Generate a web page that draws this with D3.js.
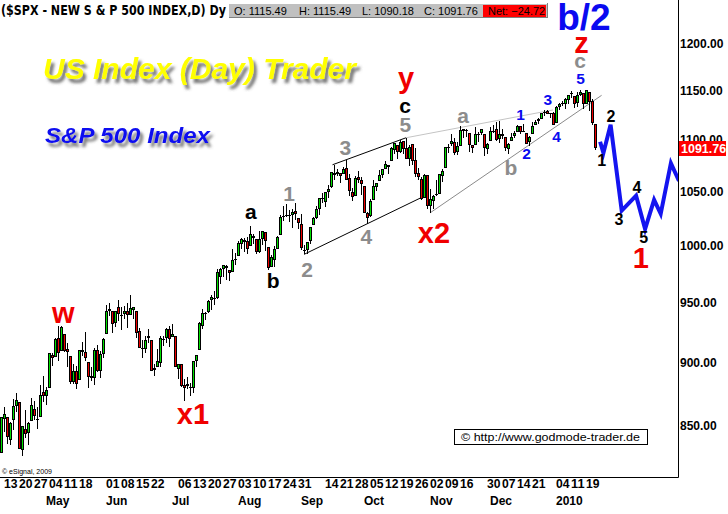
<!DOCTYPE html>
<html>
<head>
<meta charset="utf-8">
<script src="https://cdn.jsdelivr.net/npm/d3@7"></script>
<style>
  body { margin: 0; background: #fff; }
  svg { display: block; }
</style>
</head>
<body>
<div id="chart"></div>
<script>
// daily bars, $SPX, 9 Apr 2009 .. 22 Jan 2010
const dates = [
  "2009-04-09","2009-04-13","2009-04-14","2009-04-15","2009-04-16","2009-04-17","2009-04-20","2009-04-21","2009-04-22","2009-04-23","2009-04-24","2009-04-27","2009-04-28","2009-04-29","2009-04-30",
  "2009-05-01","2009-05-04","2009-05-05","2009-05-06","2009-05-07","2009-05-08","2009-05-11","2009-05-12","2009-05-13","2009-05-14","2009-05-15","2009-05-18","2009-05-19","2009-05-20","2009-05-21","2009-05-22","2009-05-26","2009-05-27","2009-05-28","2009-05-29",
  "2009-06-01","2009-06-02","2009-06-03","2009-06-04","2009-06-05","2009-06-08","2009-06-09","2009-06-10","2009-06-11","2009-06-12","2009-06-15","2009-06-16","2009-06-17","2009-06-18","2009-06-19","2009-06-22","2009-06-23","2009-06-24","2009-06-25","2009-06-26","2009-06-29","2009-06-30",
  "2009-07-01","2009-07-02","2009-07-06","2009-07-07","2009-07-08","2009-07-09","2009-07-10","2009-07-13","2009-07-14","2009-07-15","2009-07-16","2009-07-17","2009-07-20","2009-07-21","2009-07-22","2009-07-23","2009-07-24","2009-07-27","2009-07-28","2009-07-29","2009-07-30","2009-07-31",
  "2009-08-03","2009-08-04","2009-08-05","2009-08-06","2009-08-07","2009-08-10","2009-08-11","2009-08-12","2009-08-13","2009-08-14","2009-08-17","2009-08-18","2009-08-19","2009-08-20","2009-08-21","2009-08-24","2009-08-25","2009-08-26","2009-08-27","2009-08-28","2009-08-31",
  "2009-09-01","2009-09-02","2009-09-03","2009-09-04","2009-09-08","2009-09-09","2009-09-10","2009-09-11","2009-09-14","2009-09-15","2009-09-16","2009-09-17","2009-09-18","2009-09-21","2009-09-22","2009-09-23","2009-09-24","2009-09-25","2009-09-28","2009-09-29","2009-09-30",
  "2009-10-01","2009-10-02","2009-10-05","2009-10-06","2009-10-07","2009-10-08","2009-10-09","2009-10-12","2009-10-13","2009-10-14","2009-10-15","2009-10-16","2009-10-19","2009-10-20","2009-10-21","2009-10-22","2009-10-23","2009-10-26","2009-10-27","2009-10-28","2009-10-29","2009-10-30",
  "2009-11-02","2009-11-03","2009-11-04","2009-11-05","2009-11-06","2009-11-09","2009-11-10","2009-11-11","2009-11-12","2009-11-13","2009-11-16","2009-11-17","2009-11-18","2009-11-19","2009-11-20","2009-11-23","2009-11-24","2009-11-25","2009-11-27","2009-11-30",
  "2009-12-01","2009-12-02","2009-12-03","2009-12-04","2009-12-07","2009-12-08","2009-12-09","2009-12-10","2009-12-11","2009-12-14","2009-12-15","2009-12-16","2009-12-17","2009-12-18","2009-12-21","2009-12-22","2009-12-23","2009-12-24","2009-12-28","2009-12-29","2009-12-30","2009-12-31",
  "2010-01-04","2010-01-05","2010-01-06","2010-01-07","2010-01-08","2010-01-11","2010-01-12","2010-01-13","2010-01-14","2010-01-15","2010-01-19","2010-01-20","2010-01-21","2010-01-22"
];
const opens = [
  829.3,855.3,856.9,839.4,854.5,865.2,868.3,831.3,847.3,844.6,853.9,862.8,854.5,856.9,876.6,
  872.7,879.2,906.1,904.0,919.6,909.0,923.0,910.5,905.4,884.2,892.8,886.1,909.7,908.6,900.4,888.7,887.0,910.0,893.0,907.0,
  923.3,942.9,942.5,932.5,945.7,938.1,940.4,942.7,939.0,943.4,942.5,925.6,911.9,910.9,920.0,918.1,893.5,896.3,899.5,918.8,919.9,927.2,
  920.8,921.2,894.3,898.6,881.9,881.3,880.0,879.6,900.8,910.2,930.2,940.6,942.1,952.0,953.4,954.1,972.2,978.6,981.5,977.7,976.0,986.8,
  990.2,1001.4,1005.4,1004.1,999.8,1008.9,1005.8,994.0,1005.9,1012.2,998.2,980.6,986.9,996.4,1009.1,1026.6,1026.6,1027.4,1027.8,1031.6,1025.2,
  1019.5,996.1,996.1,1003.8,1018.7,1025.4,1033.0,1043.9,1040.2,1049.0,1054.0,1067.9,1066.6,1067.1,1066.4,1072.7,1062.6,1049.5,1045.4,1063.7,1061.0,
  1054.9,1029.7,1026.9,1042.0,1053.7,1060.0,1065.3,1071.6,1075.0,1078.7,1090.4,1094.7,1088.2,1098.6,1091.4,1081.0,1095.6,1080.4,1067.5,1061.5,1043.7,1065.4,
  1036.2,1040.9,1047.1,1047.3,1065.0,1072.3,1092.4,1096.0,1098.3,1087.6,1094.1,1109.2,1109.4,1106.4,1094.7,1094.9,1105.8,1106.5,1105.5,1091.1,
  1098.9,1109.0,1110.6,1100.4,1105.5,1103.0,1091.1,1098.7,1104.0,1107.8,1114.1,1108.6,1106.4,1097.9,1105.3,1114.5,1118.8,1121.1,1127.5,1128.6,1125.5,1126.6,
  1116.6,1132.7,1135.7,1136.3,1140.5,1146.0,1143.8,1137.3,1145.7,1147.7,1136.0,1148.0,1138.7,1115.49
];
const highs = [
  856.9,864.3,856.9,852.9,870.4,875.6,868.3,850.1,861.8,852.9,871.8,868.8,864.5,882.1,888.7,
  880.5,907.9,907.7,920.3,929.6,930.2,923.0,915.6,905.4,898.4,897.0,910.0,916.4,924.6,900.4,896.6,911.8,913.8,909.5,920.0,
  947.8,949.4,942.5,942.5,951.7,946.3,946.9,949.8,956.2,946.3,942.5,928.0,918.4,921.9,927.1,918.1,898.7,910.9,921.4,922.0,928.0,930.0,
  931.9,921.2,898.7,898.6,886.8,887.9,883.6,901.1,905.8,933.0,944.0,941.9,951.6,956.5,959.8,979.4,979.8,982.5,982.4,977.8,996.7,993.2,
  1003.6,1007.1,1006.6,1008.0,1018.0,1010.1,1005.8,1012.8,1013.1,1012.6,998.2,991.2,999.6,1008.9,1027.6,1035.8,1037.8,1032.5,1033.3,1039.5,1025.2,
  1028.5,1000.3,1003.4,1016.5,1026.1,1036.3,1044.1,1048.2,1049.7,1056.0,1068.8,1074.8,1071.5,1067.3,1073.8,1080.2,1066.3,1053.5,1065.1,1069.6,1063.4,
  1054.9,1030.6,1042.6,1060.6,1058.0,1070.7,1071.5,1079.5,1075.3,1093.2,1096.6,1094.7,1100.2,1098.6,1101.4,1095.2,1095.8,1091.8,1072.5,1063.3,1066.8,1066.0,
  1052.2,1046.4,1061.0,1066.7,1071.5,1093.2,1096.1,1105.4,1102.0,1097.6,1113.7,1110.5,1111.1,1106.4,1094.7,1112.4,1107.6,1111.2,1105.5,1097.2,
  1112.3,1115.0,1117.3,1119.1,1110.7,1103.0,1097.0,1106.3,1108.5,1114.8,1114.1,1116.2,1106.4,1103.7,1117.7,1120.3,1121.6,1126.5,1130.4,1130.4,1126.4,1127.6,
  1133.9,1136.6,1139.2,1142.5,1145.4,1149.7,1143.8,1148.4,1150.4,1147.8,1150.5,1148.0,1141.6,1115.49
];
const lows = [
  829.3,845.3,836.3,835.6,847.0,860.9,832.4,826.8,840.6,835.5,853.9,854.7,847.1,856.9,868.5,
  866.1,879.2,897.3,904.0,901.4,909.0,908.7,896.5,882.5,882.5,878.9,886.1,905.2,901.4,879.6,884.8,881.5,891.9,887.6,903.6,
  923.3,938.5,923.9,929.3,934.1,926.4,936.2,928.0,939.0,935.7,919.7,911.6,903.8,907.9,915.8,893.0,888.9,896.3,896.3,913.0,916.2,912.9,
  920.8,896.4,886.4,879.9,869.3,878.5,872.8,875.3,896.5,910.2,927.5,934.9,941.0,943.2,947.8,953.3,966.0,972.3,969.4,968.7,976.0,982.8,
  990.2,996.7,994.3,992.5,999.8,1001.0,992.4,993.4,1000.8,994.6,978.5,980.6,980.6,996.4,1009.1,1022.5,1026.2,1021.6,1016.2,1023.1,1014.6,
  996.3,992.0,992.3,1001.7,1018.7,1024.0,1028.0,1039.4,1035.0,1043.4,1052.9,1061.0,1064.3,1057.5,1066.4,1060.4,1045.9,1041.2,1045.4,1057.8,1046.5,
  1029.5,1020.0,1025.9,1042.0,1050.1,1060.0,1063.0,1071.6,1066.7,1078.7,1086.4,1081.5,1086.5,1086.2,1080.8,1074.3,1075.5,1063.4,1060.6,1042.2,1043.7,1033.4,
  1029.4,1033.9,1045.2,1047.3,1059.3,1072.3,1087.4,1093.8,1084.9,1085.3,1094.1,1102.2,1102.7,1088.4,1086.8,1094.9,1097.6,1104.8,1083.7,1086.3,
  1098.9,1106.4,1098.7,1096.5,1100.8,1088.6,1085.9,1098.7,1101.3,1107.8,1105.4,1108.0,1095.9,1093.9,1105.3,1114.5,1116.0,1121.1,1124.1,1126.1,1121.9,1114.8,
  1116.6,1129.7,1134.0,1131.3,1136.2,1142.0,1131.8,1133.2,1143.8,1131.4,1135.8,1129.3,1114.8,1090.18
];
const closes = [
  856.6,858.7,841.5,852.1,865.3,869.6,832.4,850.1,843.6,851.9,866.2,857.5,855.2,873.6,872.8,
  877.5,907.2,903.8,919.5,907.4,929.2,909.2,908.4,883.9,893.1,882.9,909.7,908.1,903.5,888.3,887.0,910.3,893.1,906.8,919.1,
  942.9,944.7,931.8,942.5,940.1,939.1,942.4,939.2,944.9,946.2,923.7,912.0,910.7,918.4,921.2,893.0,895.1,900.9,920.3,918.9,927.2,919.3,
  923.3,896.4,898.7,881.0,879.6,882.7,879.1,901.1,905.8,932.7,940.7,940.4,951.1,954.6,954.1,976.3,979.3,982.2,979.6,975.2,986.8,987.5,
  1002.6,1005.7,1002.7,997.1,1010.5,1007.1,994.4,1005.8,1012.7,1004.1,979.7,989.7,996.5,1007.4,1026.1,1025.6,1028.0,1028.1,1031.0,1028.9,1020.6,
  998.0,994.8,1003.2,1016.4,1025.4,1033.4,1044.1,1042.7,1049.3,1052.6,1068.8,1065.5,1068.3,1064.7,1071.7,1060.9,1050.8,1044.4,1063.0,1060.6,1057.1,
  1029.9,1025.2,1040.5,1054.7,1057.6,1065.5,1071.5,1076.2,1073.2,1092.0,1096.6,1087.7,1097.9,1091.1,1081.4,1092.9,1079.6,1067.0,1063.4,1042.6,1066.1,1036.2,
  1042.9,1045.4,1046.5,1066.6,1069.3,1093.1,1093.0,1098.5,1087.2,1093.5,1109.3,1110.3,1109.8,1094.9,1091.4,1106.2,1105.7,1110.6,1091.5,1095.6,
  1108.9,1109.2,1099.9,1106.0,1103.3,1091.9,1096.0,1102.4,1106.4,1114.1,1107.9,1109.2,1096.1,1102.5,1114.1,1118.0,1120.6,1126.5,1127.8,1126.2,1126.4,1115.1,
  1133.0,1136.5,1137.1,1141.7,1145.0,1147.0,1136.2,1145.7,1148.5,1136.0,1150.2,1138.0,1116.48,1091.76
];

// price axis
const priceTicks = [850, 900, 950, 1000, 1050, 1100, 1150, 1200];

// weekly date labels and month labels
const weekTicks = ["2009-04-13","2009-04-20","2009-04-27","2009-05-04","2009-05-11","2009-05-18",
  "2009-06-01","2009-06-08","2009-06-15","2009-06-22",
  "2009-07-06","2009-07-13","2009-07-20","2009-07-27","2009-08-03","2009-08-10","2009-08-17","2009-08-24","2009-08-31",
  "2009-09-14","2009-09-21","2009-09-28","2009-10-05","2009-10-12","2009-10-19","2009-10-26","2009-11-02","2009-11-09","2009-11-16",
  "2009-11-30","2009-12-07","2009-12-14","2009-12-21",
  "2010-01-04","2010-01-11","2010-01-19"];
const monthNames = ["May","Jun","Jul","Aug","Sep","Oct","Nov","Dec","2010"];
const monthStarts = ["2009-05-01","2009-06-01","2009-07-01","2009-08-03","2009-09-01","2009-10-01","2009-11-02","2009-12-01","2010-01-04"];

// forecast path (bar index beyond last bar, price)
const forecastIdx   = [199.7, 200.8, 203.2, 206.9, 211.7, 214.7, 217.7, 219.9, 223.3, 226.0];
const forecastPrice = [1098, 1087, 1115, 1032, 1046, 1015, 1042, 1029, 1077, 1060];

// trend lines [idx, price] -> [idx, price]
const trendLines = [
  {kind: "channel", from: [101, 992], to: [140, 1044]},
  {kind: "channel", from: [110.5, 1075.5], to: [135, 1102]},
  {kind: "wedgeLow", from: [143, 1029.8], to: [200.2, 1145]},
  {kind: "wedgeHigh", from: [135, 1102], to: [184, 1130]}
];

// wave counts
const waveText   = ["w","x1","a","b","1","2","3","4","5","y","c","x2","a","b","1","2","3","4","5","c","z","b/2","1","2","3","4","5","1"];
const waveDegree = ["red","red","black","black","grey","grey","grey","grey","grey","red","black","red","grey","grey","blue","blue","blue","blue","blue","grey","red","big","fc","fc","fc","fc","fc","red"];
const waveIdx    = [20.8, 64, 83.3, 90.7, 96, 102, 114.8, 121.8, 134.8, 135, 134.7, 144.3, 154, 170, 173.2, 175.2, 182.3, 185.2, 193.2, 193, 193.5, 194.3, 200.2, 203.3, 206, 212, 214.2, 213.3];
const wavePrice  = [932.3, 851.2, 1024, 962.2, 1040.8, 971.8, 1084.8, 1001.2, 1107.6, 1152.4, 1126.7, 1002.1, 1116.6, 1065.4, 1119.6, 1080.9, 1134.9, 1097.6, 1156.6, 1173.4, 1189.3, 1214.3, 1074.1, 1117.6, 1018.5, 1048.3, 1002.1, 979.7];

const W = 728, H = 514;
const plotRight = 678, plotBottom = 477;
const BOLD = "'Liberation Sans', Arial, sans-serif";
const NARROW = "'Liberation Sans Narrow', 'Arial Narrow', 'DejaVu Sans Condensed', sans-serif";

const svg = d3.select('#chart').append('svg')
  .attr('width', W)
  .attr('height', H);

const defs = svg.append('defs');
const sh = defs.append('filter').attr('id', 'shadow')
  .attr('x', '-10%').attr('y', '-30%').attr('width', '130%').attr('height', '180%');
sh.append('feDropShadow').attr('dx', 3).attr('dy', 4).attr('stdDeviation', 1.8)
  .attr('flood-color', '#555').attr('flood-opacity', 0.8);
defs.append('clipPath').attr('id', 'plotclip')
  .append('rect').attr('x', 0).attr('y', 0).attr('width', plotRight).attr('height', plotBottom);

//scales
const xScale = d3.scaleLinear().domain([0, dates.length - 1]).range([1, 595]);
const yScale = d3.scaleLog().domain([850, 1200]).range([425.7, 43.3]);
const idxOf = d => dates.indexOf(d);

const plot = svg.append('g').attr('clip-path', 'url(#plotclip)');

// titles
plot.append('text')
  .attr('x', 43).attr('y', 79)
  .attr('font-family', BOLD).attr('font-weight', 'bold').attr('font-style', 'italic')
  .attr('font-size', 29.5).attr('fill', '#ffff00')
  .attr('textLength', 313).attr('lengthAdjust', 'spacingAndGlyphs')
  .attr('filter', 'url(#shadow)')
  .text('US Index (Day) Trader');
plot.append('text')
  .attr('x', 45).attr('y', 142.5)
  .attr('font-family', BOLD).attr('font-weight', 'bold').attr('font-style', 'italic')
  .attr('font-size', 21.5).attr('fill', '#0a0af0')
  .attr('textLength', 165).attr('lengthAdjust', 'spacingAndGlyphs')
  .attr('filter', 'url(#shadow)')
  .text('S&P 500 Index');

// trend lines
const lineColor = {channel: '#000', wedgeLow: '#8a8a8a', wedgeHigh: '#c4c4c4'};
plot.append('g').selectAll('line')
  .data(trendLines)
  .join('line')
  .attr('x1', d => xScale(d.from[0])).attr('y1', d => yScale(d.from[1]))
  .attr('x2', d => xScale(d.to[0])).attr('y2', d => yScale(d.to[1]))
  .attr('stroke', d => lineColor[d.kind])
  .attr('stroke-width', 1);

// candles
const bars = dates.map((d, i) => ({i, o: opens[i], h: highs[i], l: lows[i], c: closes[i]}));
const cx = d => Math.round(xScale(d.i));
const bodyTop = d => Math.round(yScale(Math.max(d.o, d.c)));
const bodyBot = d => Math.round(yScale(Math.min(d.o, d.c)));
const candles = plot.append('g').attr('shape-rendering', 'crispEdges');
candles.append('g').selectAll('rect')
  .data(bars)
  .join('rect')
  .attr('x', cx)
  .attr('y', d => Math.round(yScale(d.h)))
  .attr('width', 1)
  .attr('height', d => Math.max(1, Math.round(yScale(d.l)) - Math.round(yScale(d.h))))
  .attr('fill', '#000');
candles.append('g').selectAll('rect')
  .data(bars)
  .join('rect')
  .attr('x', d => cx(d) - 1)
  .attr('y', bodyTop)
  .attr('width', 3)
  .attr('height', d => Math.max(1, bodyBot(d) - bodyTop(d)))
  .attr('fill', '#000');
candles.append('g').selectAll('rect')
  .data(bars.filter(d => bodyBot(d) - bodyTop(d) > 2))
  .join('rect')
  .attr('x', cx)
  .attr('y', d => bodyTop(d) + 1)
  .attr('width', 1)
  .attr('height', d => bodyBot(d) - bodyTop(d) - 2)
  .attr('fill', d => d.c >= d.o ? '#00e000' : '#ee0000');

// forecast path
const fc = forecastIdx.map((v, i) => [v, forecastPrice[i]]);
plot.append('path')
  .attr('d', d3.line().x(d => xScale(d[0])).y(d => yScale(d[1]))(fc))
  .attr('fill', 'none')
  .attr('stroke', '#1414f0')
  .attr('stroke-width', 4)
  .attr('stroke-linejoin', 'miter');

// wave labels
const degStyle = {
  red:   {fill: '#f00000', size: 29},
  black: {fill: '#000', size: 21},
  grey:  {fill: '#8c8c8c', size: 21},
  blue:  {fill: '#0a0af0', size: 15.5},
  fc:    {fill: '#000', size: 16},
  big:   {fill: '#0a0af0', size: 37}
};
plot.append('g').selectAll('text')
  .data(waveText.map((t, i) => ({t, deg: waveDegree[i], i: waveIdx[i], p: wavePrice[i]})))
  .join('text')
  .attr('x', d => xScale(d.i))
  .attr('y', d => yScale(d.p))
  .attr('text-anchor', 'middle')
  .attr('font-family', BOLD)
  .attr('font-weight', 'bold')
  .attr('font-size', d => degStyle[d.deg].size)
  .attr('fill', d => degStyle[d.deg].fill)
  .text(d => d.t);

// copyright box
plot.append('rect')
  .attr('x', 454.5).attr('y', 429.5).attr('width', 193).attr('height', 15)
  .attr('fill', '#fff').attr('stroke', '#000');
plot.append('text')
  .attr('x', 461).attr('y', 441)
  .attr('font-family', BOLD).attr('font-size', 11.5)
  .attr('textLength', 179).attr('lengthAdjust', 'spacingAndGlyphs')
  .text('\u00a9 http://www.godmode-trader.de');
plot.append('text')
  .attr('x', 2).attr('y', 474)
  .attr('font-family', BOLD).attr('font-size', 7)
  .text('\u00a9 eSignal, 2009');

// frame
svg.append('path')
  .attr('d', `M${plotRight + 0.5},0V${plotBottom + 0.5}H0`)
  .attr('fill', 'none').attr('stroke', '#000');

// price labels
svg.append('g').selectAll('text')
  .data(priceTicks)
  .join('text')
  .attr('x', plotRight + 2)
  .attr('y', d => yScale(d) + 4.5)
  .attr('font-family', BOLD).attr('font-weight', 'bold').attr('font-size', 12)
  .text(d3.format('.2f'));

// last price tag
const lastClose = closes[closes.length - 1];
svg.append('rect')
  .attr('x', plotRight + 1).attr('y', Math.round(yScale(lastClose)) - 7)
  .attr('width', 47).attr('height', 15)
  .attr('fill', '#ff0000');
svg.append('text')
  .attr('x', plotRight + 3).attr('y', yScale(lastClose) + 5)
  .attr('font-family', BOLD).attr('font-weight', 'bold').attr('font-size', 12.5)
  .attr('fill', '#fff')
  .text(d3.format('.2f')(lastClose));

// date labels
const fmtDay = d3.timeFormat('%d');
const parse = d3.timeParse('%Y-%m-%d');
svg.append('g').selectAll('text')
  .data(weekTicks)
  .join('text')
  .attr('x', d => xScale(idxOf(d)))
  .attr('y', 488)
  .attr('font-family', BOLD).attr('font-weight', 'bold').attr('font-size', 12.5)
  .attr('textLength', 13.5).attr('lengthAdjust', 'spacingAndGlyphs')
  .text(d => fmtDay(parse(d)));
svg.append('g').selectAll('text')
  .data(monthNames)
  .join('text')
  .attr('x', (d, i) => xScale(idxOf(monthStarts[i])))
  .attr('y', 505)
  .attr('font-family', BOLD).attr('font-weight', 'bold').attr('font-size', 12)
  .text(d => d);

// header
const n = closes.length - 1;
svg.append('text')
  .attr('x', 1).attr('y', 15)
  .attr('font-family', NARROW).attr('font-weight', 'bold').attr('font-size', 14)
  .attr('textLength', 225).attr('lengthAdjust', 'spacingAndGlyphs')
  .text('($SPX - NEW S & P 500 INDEX,D) Dy');
const hdr = svg.append('g').attr('shape-rendering', 'crispEdges');
hdr.append('rect').attr('x', 228).attr('y', 3).attr('width', 320).attr('height', 15).attr('fill', '#c0c0c0');
hdr.append('path').attr('d', 'M228.5,18V3.5H548').attr('fill', 'none').attr('stroke', '#fff');
hdr.append('path').attr('d', 'M229,17.5H547.5V3').attr('fill', 'none').attr('stroke', '#808080');
hdr.append('rect').attr('x', 483).attr('y', 5).attr('width', 63).attr('height', 12).attr('fill', '#ff0000');
const fmt2 = d3.format('.2f');
const hdrItems = [
  ['O: ' + fmt2(opens[n]), 234],
  ['H: ' + fmt2(highs[n]), 299],
  ['L: ' + fmt2(lows[n]), 362],
  ['C: ' + fmt2(closes[n]), 424],
  ['Net: ' + fmt2(closes[n] - closes[n - 1]), 488]
];
svg.append('g').selectAll('text')
  .data(hdrItems)
  .join('text')
  .attr('x', d => d[1]).attr('y', 15)
  .attr('font-family', BOLD).attr('font-size', 11)
  .attr('fill', '#000')
  .text(d => d[0]);
</script>
</body>
</html>
